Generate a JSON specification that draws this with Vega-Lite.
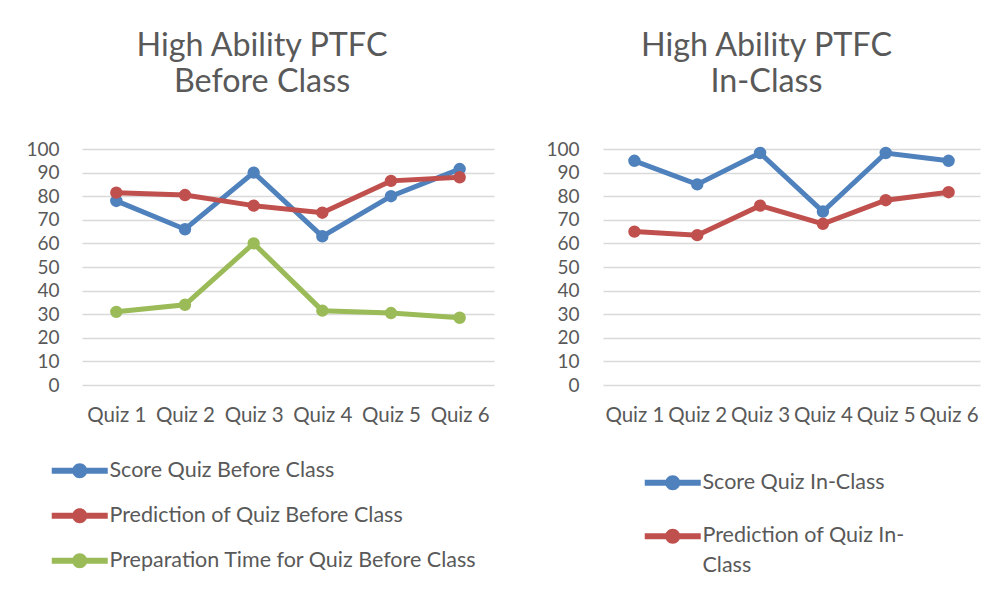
{
  "$schema": "https://vega.github.io/schema/vega-lite/v6.json",
  "padding": {"left": 24, "top": 30, "right": 5, "bottom": 5},
  "background": "white",
  "spacing": 51,
  "config": {
    "font": "Lato",
    "view": {"stroke": null},
    "axis": {
      "labelFont": "Lato",
      "labelFontSize": 19,
      "labelColor": "#595959",
      "domain": false,
      "ticks": false,
      "gridColor": "#d9d9d9",
      "gridWidth": 1.5,
      "title": null
    },
    "title": {
      "font": "Lato",
      "fontSize": 32.3,
      "fontWeight": "normal",
      "color": "#595959",
      "lineHeight": 35.5,
      "frame": "bounds",
      "anchor": "middle",
      "offset": 42
    }
  },
  "datasets": {
    "d": [
      {"panel": "Before", "quiz": "Quiz 1", "series": "Score Quiz Before Class", "value": 78},
      {"panel": "Before", "quiz": "Quiz 2", "series": "Score Quiz Before Class", "value": 66},
      {"panel": "Before", "quiz": "Quiz 3", "series": "Score Quiz Before Class", "value": 90},
      {"panel": "Before", "quiz": "Quiz 4", "series": "Score Quiz Before Class", "value": 63},
      {"panel": "Before", "quiz": "Quiz 5", "series": "Score Quiz Before Class", "value": 80},
      {"panel": "Before", "quiz": "Quiz 6", "series": "Score Quiz Before Class", "value": 91.5},
      {"panel": "Before", "quiz": "Quiz 1", "series": "Prediction of Quiz Before Class", "value": 81.5},
      {"panel": "Before", "quiz": "Quiz 2", "series": "Prediction of Quiz Before Class", "value": 80.5},
      {"panel": "Before", "quiz": "Quiz 3", "series": "Prediction of Quiz Before Class", "value": 76},
      {"panel": "Before", "quiz": "Quiz 4", "series": "Prediction of Quiz Before Class", "value": 73},
      {"panel": "Before", "quiz": "Quiz 5", "series": "Prediction of Quiz Before Class", "value": 86.5},
      {"panel": "Before", "quiz": "Quiz 6", "series": "Prediction of Quiz Before Class", "value": 88},
      {"panel": "Before", "quiz": "Quiz 1", "series": "Preparation Time for Quiz Before Class", "value": 31},
      {"panel": "Before", "quiz": "Quiz 2", "series": "Preparation Time for Quiz Before Class", "value": 34},
      {"panel": "Before", "quiz": "Quiz 3", "series": "Preparation Time for Quiz Before Class", "value": 60},
      {"panel": "Before", "quiz": "Quiz 4", "series": "Preparation Time for Quiz Before Class", "value": 31.5},
      {"panel": "Before", "quiz": "Quiz 5", "series": "Preparation Time for Quiz Before Class", "value": 30.5},
      {"panel": "Before", "quiz": "Quiz 6", "series": "Preparation Time for Quiz Before Class", "value": 28.5},
      {"panel": "In", "quiz": "Quiz 1", "series": "Score Quiz In-Class", "value": 95},
      {"panel": "In", "quiz": "Quiz 2", "series": "Score Quiz In-Class", "value": 85},
      {"panel": "In", "quiz": "Quiz 3", "series": "Score Quiz In-Class", "value": 98.3},
      {"panel": "In", "quiz": "Quiz 4", "series": "Score Quiz In-Class", "value": 73.5},
      {"panel": "In", "quiz": "Quiz 5", "series": "Score Quiz In-Class", "value": 98.3},
      {"panel": "In", "quiz": "Quiz 6", "series": "Score Quiz In-Class", "value": 95},
      {"panel": "In", "quiz": "Quiz 1", "series": "Prediction of Quiz In-Class", "value": 65},
      {"panel": "In", "quiz": "Quiz 2", "series": "Prediction of Quiz In-Class", "value": 63.5},
      {"panel": "In", "quiz": "Quiz 3", "series": "Prediction of Quiz In-Class", "value": 76},
      {"panel": "In", "quiz": "Quiz 4", "series": "Prediction of Quiz In-Class", "value": 68.3},
      {"panel": "In", "quiz": "Quiz 5", "series": "Prediction of Quiz In-Class", "value": 78.3},
      {"panel": "In", "quiz": "Quiz 6", "series": "Prediction of Quiz In-Class", "value": 81.7}
    ]
  },
  "resolve": {
    "scale": {"color": "independent", "stroke": "independent", "x": "independent", "y": "independent"},
    "legend": {"color": "independent", "stroke": "independent"}
  },
  "hconcat": [
    {
      "width": 412,
      "height": 236,
      "title": {"text": ["High Ability PTFC", "Before Class"], "dx": 3},
      "data": {"name": "d"},
      "transform": [{"filter": "datum.panel == 'Before'"}],
      "encoding": {
        "x": {"field": "quiz", "type": "nominal", "sort": null,
              "axis": {"labelAngle": 0, "labelPadding": 20, "labelFontSize": 20.5, "grid": false, "labelOverlap": false}},
        "y": {"field": "value", "type": "quantitative", "scale": {"domain": [0, 100], "nice": false},
              "axis": {"values": [0, 10, 20, 30, 40, 50, 60, 70, 80, 90, 100], "labelPadding": 23, "minExtent": 58, "maxExtent": 58}}
      },
      "layer": [
        {
          "mark": {"type": "line", "strokeWidth": 5},
          "encoding": {
            "stroke": {"field": "series", "type": "nominal",
                       "scale": {"domain": ["Prediction of Quiz Before Class", "Preparation Time for Quiz Before Class", "Score Quiz Before Class"],
                                 "range": ["#c0504d", "#9bbb59", "#4f81bd"]},
                       "legend": null}
          }
        },
        {
          "mark": {"type": "point", "filled": true, "size": 154, "opacity": 1},
          "encoding": {
            "color": {"field": "series", "type": "nominal",
                      "scale": {"domain": ["Score Quiz Before Class", "Prediction of Quiz Before Class", "Preparation Time for Quiz Before Class"],
                                "range": ["#4f81bd", "#c0504d", "#9bbb59"]},
                      "legend": {
                        "title": null,
                        "orient": "none",
                        "direction": "vertical",
                        "legendX": -13,
                        "legendY": 311,
                        "rowPadding": 22,
                        "padding": 0,
                        "symbolType": "M-4,-0.43L4,-0.43L4,0.43L-4,0.43Z M1.07,0A1.07,1.07 0 1,1 -1.07,0A1.07,1.07 0 1,1 1.07,0Z",
                        "symbolSize": 196,
                        "symbolStrokeWidth": 0,
                        "labelFont": "Lato",
                        "labelFontSize": 21.5,
                        "labelColor": "#595959",
                        "labelOffset": 19,
                        "labelLimit": 500
                      }}
          }
        }
      ]
    },
    {
      "width": 377,
      "height": 236,
      "title": {"text": ["High Ability PTFC", "In-Class"], "dx": 4},
      "data": {"name": "d"},
      "transform": [{"filter": "datum.panel == 'In'"}],
      "encoding": {
        "x": {"field": "quiz", "type": "nominal", "sort": null,
              "axis": {"labelAngle": 0, "labelPadding": 20, "labelFontSize": 20.5, "grid": false, "labelOverlap": false}},
        "y": {"field": "value", "type": "quantitative", "scale": {"domain": [0, 100], "nice": false},
              "axis": {"values": [0, 10, 20, 30, 40, 50, 60, 70, 80, 90, 100], "labelPadding": 24, "minExtent": 58, "maxExtent": 58}}
      },
      "layer": [
        {
          "mark": {"type": "line", "strokeWidth": 5},
          "encoding": {
            "stroke": {"field": "series", "type": "nominal",
                       "scale": {"domain": ["Prediction of Quiz In-Class", "Score Quiz In-Class"],
                                 "range": ["#c0504d", "#4f81bd"]},
                       "legend": null}
          }
        },
        {
          "mark": {"type": "point", "filled": true, "size": 154, "opacity": 1},
          "encoding": {
            "color": {"field": "series", "type": "nominal",
                      "scale": {"domain": ["Score Quiz In-Class", "Prediction of Quiz In-Class"],
                                "range": ["#4f81bd", "#c0504d"]},
                      "legend": {
                        "title": null,
                        "orient": "none",
                        "direction": "vertical",
                        "legendX": 59,
                        "legendY": 323,
                        "rowPadding": 30.5,
                        "padding": 0,
                        "symbolType": "M-4,-0.43L4,-0.43L4,0.43L-4,0.43Z M1.07,0A1.07,1.07 0 1,1 -1.07,0A1.07,1.07 0 1,1 1.07,0Z",
                        "symbolSize": 196,
                        "symbolStrokeWidth": 0,
                        "labelFont": "Lato",
                        "labelFontSize": 21.5,
                        "labelColor": "#595959",
                        "labelOffset": 19,
                        "labelLimit": 500,
                        "labelExpr": "datum.label == 'Prediction of Quiz In-Class' ? ['Prediction of Quiz In-', 'Class'] : datum.label",
                        "encoding": {"labels": {"lineHeight": {"value": 30}}}
                      }}
          }
        }
      ]
    }
  ]
}
